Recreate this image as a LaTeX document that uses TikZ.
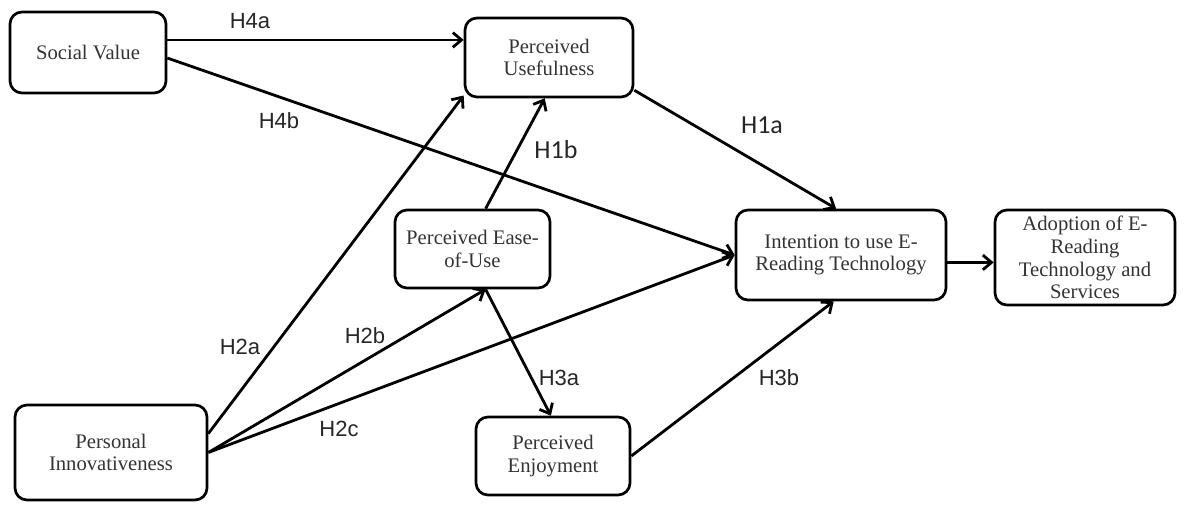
\documentclass[tikz,border=0pt]{standalone}
\usepackage{fontspec}
\setmainfont{Liberation Serif}
\newfontfamily\labelfont{Liberation Sans}
\newfontfamily\calfont{Carlito}
\usetikzlibrary{arrows.meta}

\begin{document}
\begin{tikzpicture}[x=0.75pt,y=0.75pt,yscale=-1,xscale=1,
		box/.style={draw, line width=2pt, rounded corners=9pt, align=center, inner sep=1pt, text=black!80, font=\fontsize{15.5}{17}\selectfont},
		hyp/.style={line width=2.1pt, -{Straight Barb[length=6.5pt,width=11pt]}},
		hlab/.style={inner sep=0pt, text=black!85, font=\labelfont\fontsize{16.5}{18}\selectfont},
		clab/.style={inner sep=0pt, text=black!85, font=\calfont\fontsize{19.5}{21}\selectfont}]
			\useasboundingbox (0,0) rectangle (1185,506);

			%Rounded Rect [id:sv] 
			\node [box, minimum width=117pt, minimum height=60.75pt] (sv) at (88,52.5) {Social Value};
			%Rounded Rect [id:pu] 
			\node [box, minimum width=126pt, minimum height=59.25pt] (pu) at (549,57.5) {Perceived\\Usefulness};
			%Rounded Rect [id:peu] 
			\node [box, minimum width=116.25pt, minimum height=58.5pt] (peu) at (472.5,249) {Perceived Ease-\\of-Use};
			%Rounded Rect [id:ito] 
			\node [box, minimum width=157.5pt, minimum height=67.5pt] (ito) at (841,255) {Intention to use E-\\Reading Technology};
			%Rounded Rect [id:ad] 
			\node [box, minimum width=135pt, minimum height=71.25pt] (ad) at (1085,257.5) {Adoption of E-\\Reading\\Technology and\\Services};
			%Rounded Rect [id:pi] 
			\node [box, minimum width=144pt, minimum height=71.25pt] (pi) at (111,452.5) {Personal\\Innovativeness};
			%Rounded Rect [id:pe] 
			\node [box, minimum width=115.5pt, minimum height=58.5pt] (pe) at (553,456) {Perceived\\Enjoyment};

			%Straight Lines [id:h4a] 
			\draw [hyp] (sv.9.5) -- (sv.9.5 -| pu.west) ;
			%Straight Lines [id:h4b] 
			\draw [hyp] (sv.-4) -- (ito.west) ;
			%Straight Lines [id:h1a] 
			\draw [hyp] (pu.-21) -- (ito.96) ;
			%Straight Lines [id:h1b] 
			\draw [hyp] (peu.72) -- (pu.264) ;
			%Straight Lines [id:h2a] 
			\draw [hyp] (pi.11.5) -- (pu.204) ;
			%Straight Lines [id:h2b] 
			\draw [hyp] (pi.east) -- (peu.288) ;
			%Straight Lines [id:h2c] 
			\draw [hyp] (pi.east) -- (ito.west) ;
			%Straight Lines [id:h3a] 
			\draw [hyp] (peu.288) -- (pe.93) ;
			%Straight Lines [id:h3b] 
			\draw [hyp] (pe.east) -- (ito.261) ;
			%Straight Lines [id:adopt] 
			\draw [hyp] (ito.-4) -- (ito.-4 -| ad.west) ;

			% Text Node
			\node [hlab] (lh4a) at (250,21) {H4a};
			% Text Node
			\node [hlab] (lh4b) at (279,121) {H4b};
			% Text Node
			\node [clab] (lh1a) at (762,125) {H1a};
			% Text Node
			\node [clab] (lh1b) at (556,150) {H1b};
			% Text Node
			\node [hlab] (lh2a) at (240,347) {H2a};
			% Text Node
			\node [hlab] (lh2b) at (365,336) {H2b};
			% Text Node
			\node [hlab] (lh2c) at (339,429) {H2c};
			% Text Node
			\node [hlab] (lh3a) at (559,378) {H3a};
			% Text Node
			\node [hlab] (lh3b) at (779,378) {H3b};
		\end{tikzpicture}
\end{document}
